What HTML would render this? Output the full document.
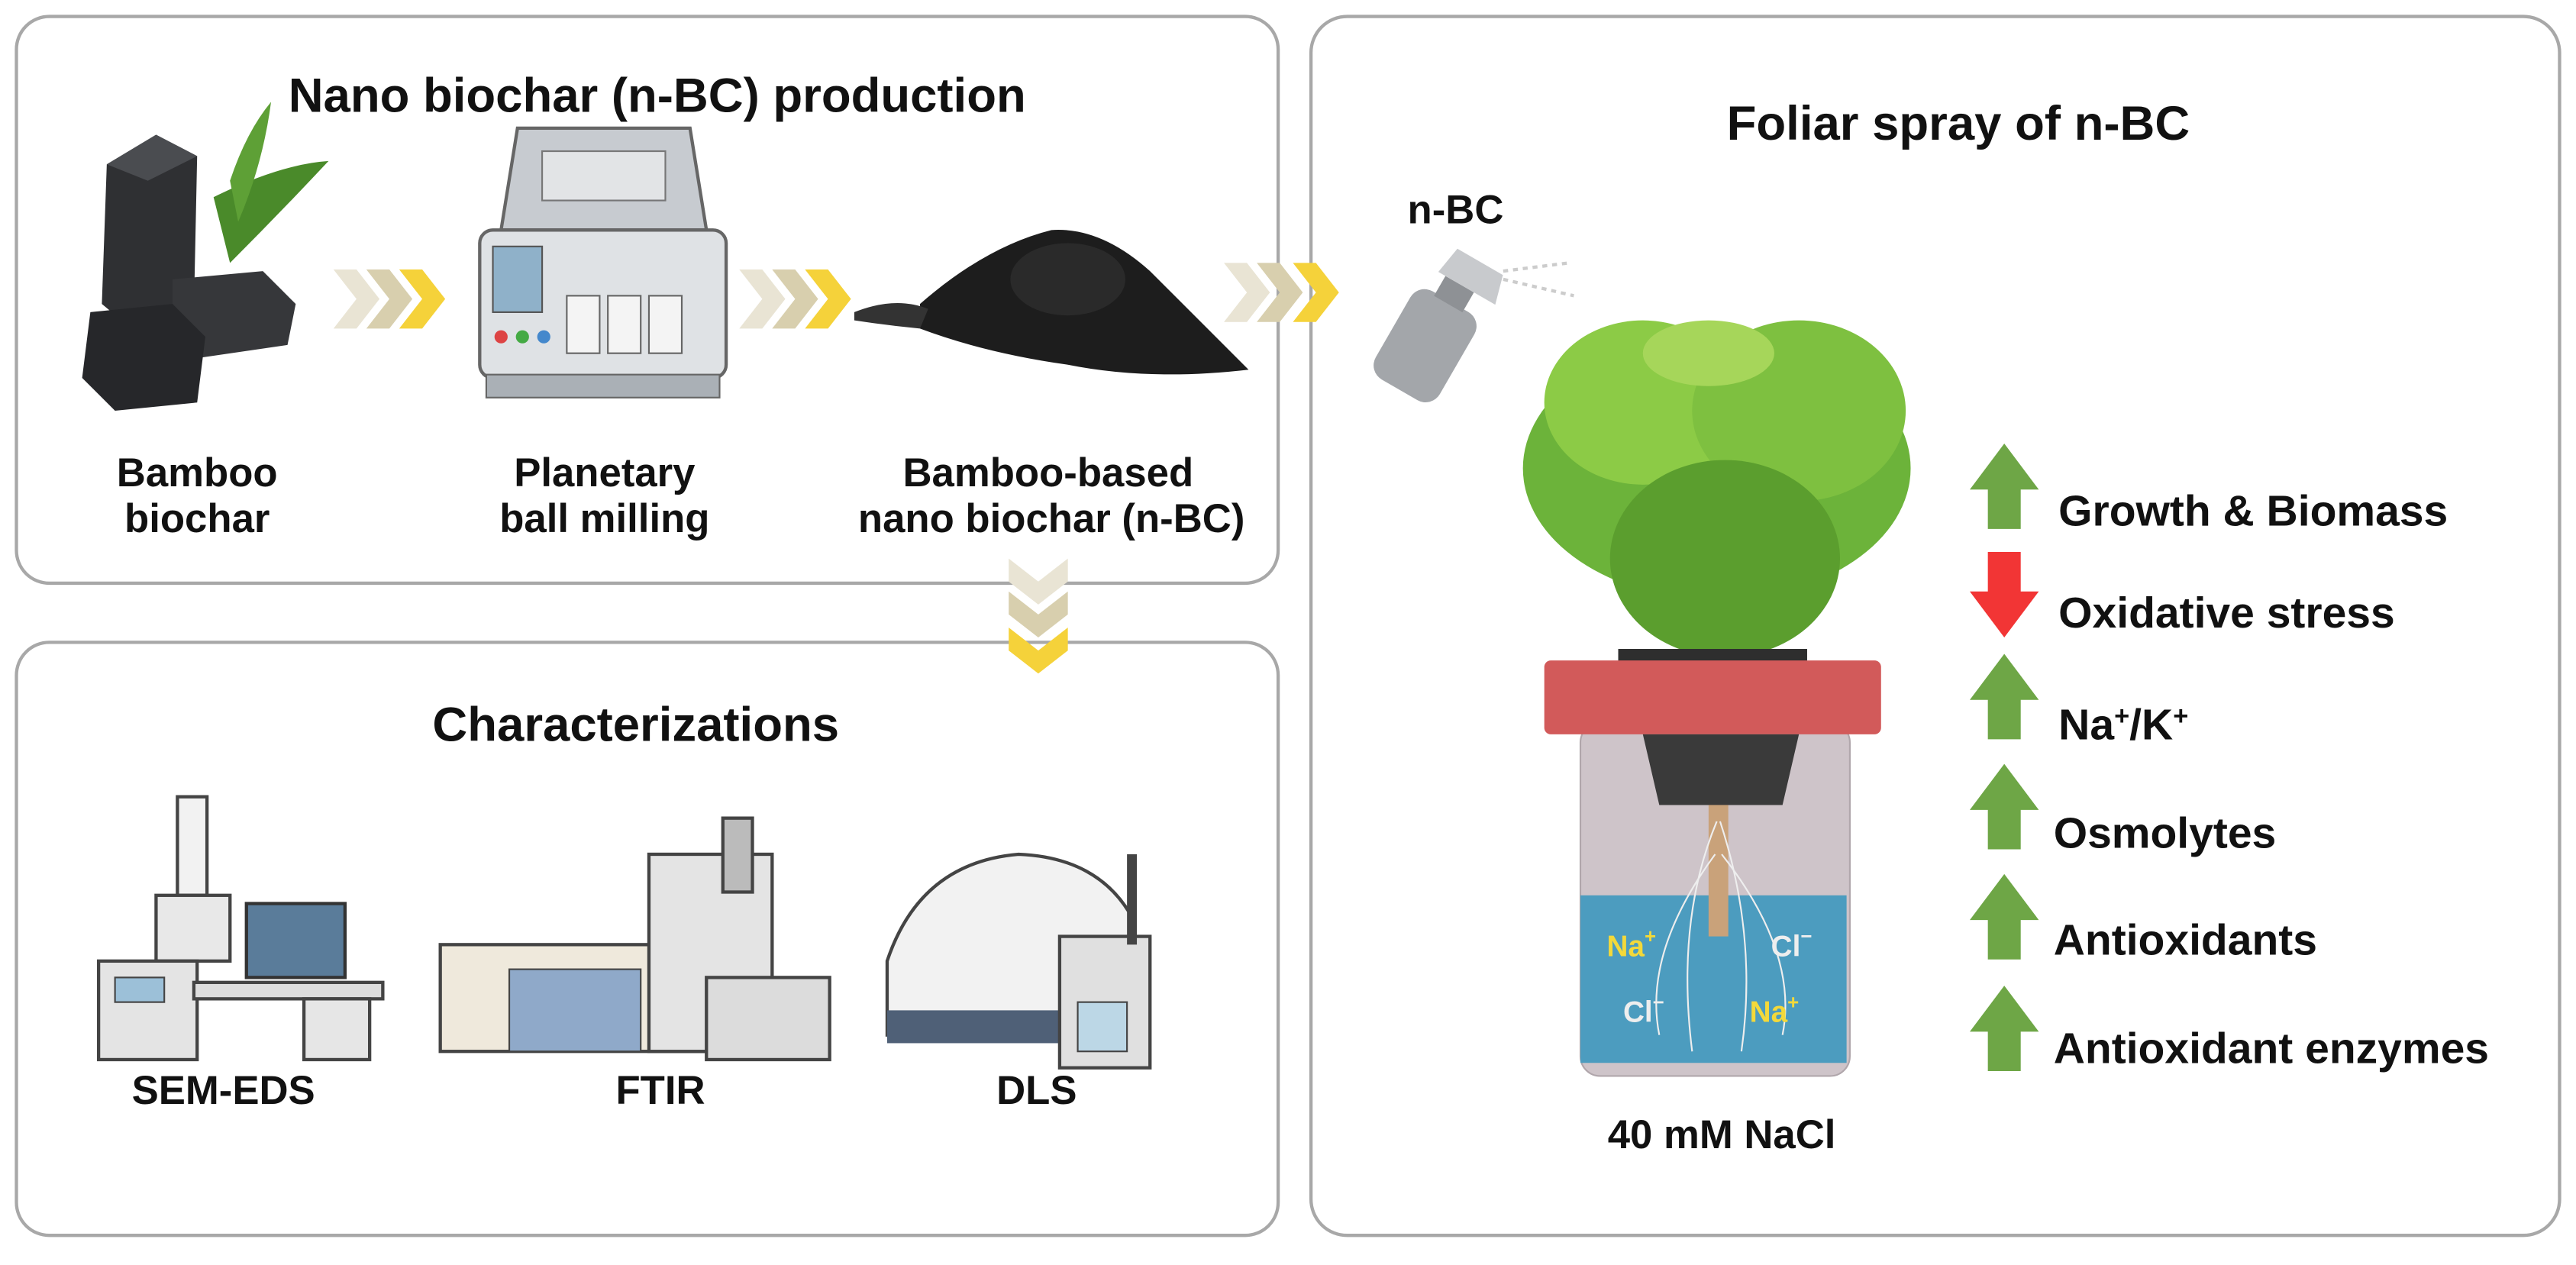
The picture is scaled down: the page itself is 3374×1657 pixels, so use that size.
<!DOCTYPE html>
<html><head><meta charset="utf-8"><style>
html,body{margin:0;padding:0;background:#fff;}
svg{display:block;}
text{font-family:"Liberation Sans",Arial,sans-serif;font-weight:bold;fill:#111;}
</style></head><body>
<svg width="3374" height="1657" viewBox="0 0 1568 770" xmlns="http://www.w3.org/2000/svg">
<rect x="0" y="0" width="1568" height="770" fill="#fff"/>
<rect x="10" y="10" width="768" height="345" rx="20" fill="#fff" stroke="#a8a8a8" stroke-width="2"/>
<rect x="10" y="391" width="768" height="361" rx="20" fill="#fff" stroke="#a8a8a8" stroke-width="2"/>
<rect x="798" y="10" width="760" height="742" rx="22" fill="#fff" stroke="#a8a8a8" stroke-width="2"/>

<text x="400" y="68" font-size="29.5" text-anchor="middle">Nano biochar (n-BC) production</text>
<text x="387" y="451" font-size="29.5" text-anchor="middle">Characterizations</text>
<text x="1192" y="85" font-size="29.5" text-anchor="middle">Foliar spray of n-BC</text>

<g font-size="24.5" text-anchor="middle">
<text x="120" y="296">Bamboo</text><text x="120" y="324">biochar</text>
<text x="368" y="296">Planetary</text><text x="368" y="324">ball milling</text>
<text x="638" y="296">Bamboo-based</text><text x="640" y="324">nano biochar (n-BC)</text>
<text x="136" y="672">SEM-EDS</text>
<text x="402" y="672">FTIR</text>
<text x="631" y="672">DLS</text>
<text x="886" y="136">n-BC</text>
<text x="1048" y="699">40 mM NaCl</text>
</g>
<g font-size="26.5">
<text x="1253" y="320">Growth &amp; Biomass</text>
<text x="1253" y="382">Oxidative stress</text>
<text x="1253" y="450">Na<tspan font-size="16" dy="-9">+</tspan><tspan dy="9">/K</tspan><tspan font-size="16" dy="-9">+</tspan></text>
<text x="1250" y="516">Osmolytes</text>
<text x="1250" y="581">Antioxidants</text>
<text x="1250" y="647">Antioxidant enzymes</text>
</g>
<g fill="#6ea646">
<path d="M1199 298 L1220 270 L1241 298 L1230 298 L1230 322 L1210 322 L1210 298Z"/>
<path d="M1199 426 L1220 398 L1241 426 L1230 426 L1230 450 L1210 450 L1210 426Z"/>
<path d="M1199 493 L1220 465 L1241 493 L1230 493 L1230 517 L1210 517 L1210 493Z"/>
<path d="M1199 560 L1220 532 L1241 560 L1230 560 L1230 584 L1210 584 L1210 560Z"/>
<path d="M1199 628 L1220 600 L1241 628 L1230 628 L1230 652 L1210 652 L1210 628Z"/>
</g>
<path d="M1210 336 L1230 336 L1230 360 L1241 360 L1220 388 L1199 360 L1210 360Z" fill="#f23535"/>

<defs>
<g id="chev"><path d="M0 0 L14 0 L28 18 L14 36 L0 36 L14 18Z"/></g>
<g id="vchev"><path d="M0 0 L18 14 L36 0 L36 14 L18 28 L0 14Z"/></g>
</defs>
<g transform="translate(203,164)"><use href="#chev" fill="#e9e4d4"/><use href="#chev" x="20" fill="#d8cfae"/><use href="#chev" x="40" fill="#f5d23a"/></g>
<g transform="translate(450,164)"><use href="#chev" fill="#e9e4d4"/><use href="#chev" x="20" fill="#d8cfae"/><use href="#chev" x="40" fill="#f5d23a"/></g>
<g transform="translate(745,160)"><use href="#chev" fill="#e9e4d4"/><use href="#chev" x="20" fill="#d8cfae"/><use href="#chev" x="42" fill="#f5d23a"/></g>
<g transform="translate(614,340)"><use href="#vchev" fill="#e9e4d4"/><use href="#vchev" y="20" fill="#d8cfae"/><use href="#vchev" y="42" fill="#f5d23a"/></g>

<path d="M130 120 Q170 100 200 98 Q170 130 140 160Z" fill="#4a8a2a"/>
<path d="M140 110 Q150 80 165 62 Q160 100 145 135Z" fill="#5ea036"/>
<path d="M65 100 L95 82 L120 95 L118 190 L80 200 L62 185Z" fill="#2f3033"/>
<path d="M65 100 L95 82 L120 95 L90 110Z" fill="#4a4c50"/>
<path d="M105 170 L160 165 L180 185 L175 210 L120 218 L105 200Z" fill="#36373a"/>
<path d="M55 190 L105 185 L125 205 L120 245 L70 250 L50 230Z" fill="#26272a"/>
<path d="M315 78 L420 78 L430 140 L305 140Z" fill="#c7cbd0" stroke="#666" stroke-width="2"/>
<rect x="330" y="92" width="75" height="30" fill="#e2e4e6" stroke="#777"/>
<rect x="292" y="140" width="150" height="90" rx="8" fill="#dfe2e5" stroke="#666" stroke-width="2"/>
<rect x="300" y="150" width="30" height="40" fill="#8fb1c9" stroke="#555"/>
<circle cx="305" cy="205" r="4" fill="#d44"/><circle cx="318" cy="205" r="4" fill="#4a4"/><circle cx="331" cy="205" r="4" fill="#48c"/>
<rect x="345" y="180" width="20" height="35" fill="#f4f4f4" stroke="#666"/><rect x="370" y="180" width="20" height="35" fill="#f4f4f4" stroke="#666"/><rect x="395" y="180" width="20" height="35" fill="#f4f4f4" stroke="#666"/>
<rect x="296" y="228" width="142" height="14" fill="#aab0b6" stroke="#666"/>
<path d="M560 185 Q600 150 640 140 Q670 138 700 165 Q730 195 760 225 Q700 232 650 222 Q600 215 560 200Z" fill="#1d1d1d"/>
<path d="M520 190 Q545 180 565 188 L560 200 Q540 198 520 195Z" fill="#333"/>
<ellipse cx="650" cy="170" rx="35" ry="22" fill="#2a2a2a"/>
<g transform="rotate(30 870 205)">
<rect x="848" y="180" width="45" height="62" rx="10" fill="#a3a6aa"/>
<rect x="860" y="168" width="20" height="14" fill="#8e9195"/>
<path d="M858 150 L890 150 L895 168 L855 168Z" fill="#c8cacd"/>
</g>
<path d="M915 165 L955 160 M915 170 L958 180" stroke="#ccc" stroke-width="2" stroke-dasharray="3 3"/>
<ellipse cx="1045" cy="285" rx="118" ry="80" fill="#6cb33a"/>
<ellipse cx="1000" cy="245" rx="60" ry="50" fill="#8ccb46"/>
<ellipse cx="1095" cy="250" rx="65" ry="55" fill="#7ec040"/>
<ellipse cx="1050" cy="340" rx="70" ry="60" fill="#5b9e2e"/>
<ellipse cx="1040" cy="215" rx="40" ry="20" fill="#a6d65a"/>
<rect x="985" y="395" width="115" height="12" fill="#2e2e2e"/>
<rect x="962" y="440" width="164" height="215" rx="12" fill="#cec4c9" stroke="#b0a6ab"/>
<rect x="962" y="545" width="162" height="102" fill="#4c9cbf"/>
<rect x="940" y="402" width="205" height="45" rx="4" fill="#d25a5a"/>
<path d="M1000 447 L1095 447 L1085 490 L1010 490Z" fill="#3a3a3a"/>
<rect x="1040" y="490" width="12" height="80" fill="#c9a27a"/>
<g stroke="#eee" stroke-width="1" fill="none"><path d="M1045 500 Q1020 560 1030 640"/><path d="M1047 500 Q1070 570 1060 640"/><path d="M1044 520 Q1000 580 1010 630"/><path d="M1048 520 Q1095 580 1085 630"/></g>
<g font-size="18" font-weight="normal">
<text x="978" y="582" style="fill:#f3d93a">Na<tspan font-size="12" dy="-8">+</tspan></text>
<text x="1078" y="582" style="fill:#eee">Cl<tspan font-size="12" dy="-8">−</tspan></text>
<text x="988" y="622" style="fill:#eee">Cl<tspan font-size="12" dy="-8">−</tspan></text>
<text x="1065" y="622" style="fill:#f3d93a">Na<tspan font-size="12" dy="-8">+</tspan></text>
</g>
<rect x="108" y="485" width="18" height="60" fill="#f2f2f2" stroke="#444" stroke-width="2"/>
<rect x="95" y="545" width="45" height="40" fill="#e8e8e8" stroke="#444" stroke-width="2"/>
<rect x="60" y="585" width="60" height="60" fill="#e4e4e4" stroke="#444" stroke-width="2"/>
<rect x="70" y="595" width="30" height="15" fill="#9cc0d8" stroke="#444"/>
<rect x="150" y="550" width="60" height="45" fill="#5a7c9a" stroke="#333" stroke-width="2"/>
<rect x="118" y="598" width="115" height="10" fill="#ddd" stroke="#444" stroke-width="2"/>
<rect x="185" y="608" width="40" height="37" fill="#e6e6e6" stroke="#444" stroke-width="2"/>
<rect x="268" y="575" width="165" height="65" fill="#efe9dc" stroke="#444" stroke-width="2"/>
<rect x="310" y="590" width="80" height="50" fill="#8fa9c9" stroke="#444"/>
<rect x="395" y="520" width="75" height="120" fill="#e4e4e4" stroke="#444" stroke-width="2"/>
<rect x="440" y="498" width="18" height="45" fill="#bbb" stroke="#444" stroke-width="2"/>
<rect x="430" y="595" width="75" height="50" fill="#dcdcdc" stroke="#444" stroke-width="2"/>
<path d="M540 630 L540 585 Q560 525 620 520 Q670 522 690 560 L690 630Z" fill="#f2f2f2" stroke="#444" stroke-width="2"/>
<rect x="540" y="615" width="150" height="20" fill="#4f6077"/>
<rect x="645" y="570" width="55" height="80" fill="#e0e0e0" stroke="#444" stroke-width="2"/>
<rect x="656" y="610" width="30" height="30" fill="#bcd7e6" stroke="#444"/>
<rect x="686" y="520" width="6" height="55" fill="#444"/>
</svg>
</body></html>
